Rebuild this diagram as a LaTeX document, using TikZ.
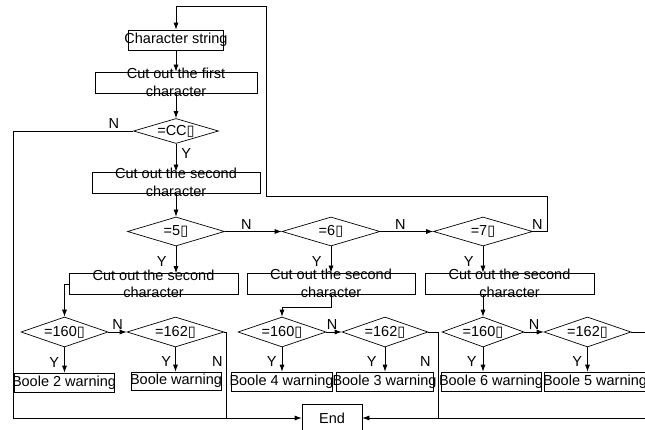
\documentclass[tikz,border=0pt]{standalone}
\usepackage{fontspec}
\setmainfont{Liberation Sans}
\newfontfamily\symfont{DejaVu Sans}
\newcommand{\miss}{{\symfont ▯}}
\usetikzlibrary{shapes,arrows.meta}

\begin{document}
\begin{tikzpicture}[x=1pt, y=-1pt, >={Latex[length=7pt,width=5pt]}, line width=0.7pt,
  every label/.style={font=\fontsize{14.5}{17.5}\selectfont, align=center, inner sep=0pt},
  box/.style={draw, rectangle, inner sep=0pt, minimum height=21pt},
  test/.style={draw, diamond, inner sep=0pt, minimum height=30pt},
  lbl/.style={font=\fontsize{14.5}{17.5}\selectfont, inner sep=0pt}]
    \fill[white] (0,0) rectangle (645,430);
    \useasboundingbox (0,0) rectangle (645,430);
    \clip (0,0) rectangle (645,430);
    \node (str) at (176,40) [box, minimum width=95pt, minimum height=20pt, label=center:Character string] {};
    \node (cut1) at (176,82.5) [box, minimum width=162pt, label={center:{Cut out the first\\character}}] {};
    \node (cc) at (176,131) [test, minimum width=85pt, minimum height=25pt, label={center:{=CC\miss}}] {};
    \node (cut2) at (176,182.5) [box, minimum width=168pt, label={center:{Cut out the second\\character}}] {};
    \node (d5) at (176,231.5) [test, minimum width=97pt, minimum height=29pt, label={center:{=5\miss}}] {};
    \node (d6) at (331,231.5) [test, minimum width=98pt, minimum height=29pt, label={center:{=6\miss}}] {};
    \node (d7) at (483,231.5) [test, minimum width=99pt, minimum height=29pt, label={center:{=7\miss}}] {};
    \node (ca) at (153.5,284) [box, minimum width=169pt, label={center:{Cut out the second\\character}}] {};
    \node (cb) at (331,283.5) [box, minimum width=168pt, label={center:{Cut out the second\\character}}] {};
    \node (cC) at (509.5,283.5) [box, minimum width=169pt, label={center:{Cut out the second\\character}}] {};
    \node (a160) at (64.5,332) [test, minimum width=87pt, label={center:{=160\miss}}] {};
    \node (a162) at (175.5,332) [test, minimum width=97pt, label={center:{=162\miss}}] {};
    \node (b160) at (282,332) [test, minimum width=88pt, label={center:{=160\miss}}] {};
    \node (b162) at (385,332) [test, minimum width=86pt, label={center:{=162\miss}}] {};
    \node (c160) at (483,332) [test, minimum width=82pt, label={center:{=160\miss}}] {};
    \node (c162) at (587.5,332) [test, minimum width=87pt, label={center:{=162\miss}}] {};
    \node (w2) at (64,382.5) [box, minimum width=100pt, minimum height=19pt, label=center:Boole 2 warning] {};
    \node (w1) at (176,381) [box, minimum width=90pt, minimum height=18pt, label=center:Boole warning] {};
    \node (w4) at (281.5,381.5) [box, minimum width=101pt, minimum height=19pt, label=center:Boole 4 warning] {};
    \node (w3) at (384.5,381.5) [box, minimum width=97pt, minimum height=19pt, label=center:Boole 3 warning] {};
    \node (w6) at (491,381.5) [box, minimum width=100pt, minimum height=19pt, label=center:Boole 6 warning] {};
    \node (w5) at (595,381.5) [box, minimum width=102pt, minimum height=19pt, label=center:Boole 5 warning] {};
    \node (End) at (332,418) [box, minimum width=60pt, minimum height=28pt, label=center:End] {};
    \coordinate (loopR) at (547,196);
    \coordinate (loopT) at (266,6);
    \coordinate (lft) at (13,418);
    \coordinate (bmid) at (282,307.5);
    \coordinate (aN) at (226,418);
    \coordinate (bN) at (438,418);
    \coordinate (rgt) at (660,418);
    \draw[->] (str) -- (cut1);
    \draw[->] (cut1) -- (cc);
    \draw[->] (cc) -- node[lbl, right=5pt, pos=0.33] {Y} (cut2);
    \draw[->] (cut2) -- (d5);
    \draw[->] (cc.west) -| node[lbl, above=2pt, pos=0.08] {N} (lft) -- (End);
    \draw[->] (d5) -- node[lbl, above=2pt, pos=0.38] {N} (d6);
    \draw[->] (d6) -- node[lbl, above=2pt, pos=0.38] {N} (d7);
    \draw[->] (d7.east) -| node[lbl, above=2pt, pos=0.155] {N} (loopR) -| (loopT) -| (str);
    \draw[->] (d5) -- node[lbl, left=9pt, pos=0.57] {Y} (d5 |- ca.north);
    \draw[->] (d6) -- node[lbl, left=9pt, pos=0.57] {Y} (d6 |- cb.north);
    \draw[->] (d7) -- node[lbl, left=9pt, pos=0.57] {Y} (d7 |- cC.north);
    \draw[->] (ca.west) -| (a160);
    \draw[->] (cb) |- (bmid) -- (b160);
    \draw[->] (cC.south -| c160) -- (c160);
    \draw[->] (a160) -- node[lbl, above=2pt, pos=0.5] {N} (a162);
    \draw[->] (b160) -- node[lbl, above=2pt, pos=0.38] {N} (b162);
    \draw[->] (c160) -- node[lbl, above=2pt, pos=0.5] {N} (c162);
    \draw[->] (a160) -- node[lbl, left=5pt, pos=0.58] {Y} (a160 |- w2.north);
    \draw[->] (a162) -- node[lbl, left=4pt, pos=0.58] {Y} (a162 |- w1.north);
    \draw[->] (b160) -- node[lbl, left=5pt, pos=0.58] {Y} (b160 |- w4.north);
    \draw[->] (b162) -- node[lbl, left=8pt, pos=0.58] {Y} (b162 |- w3.north);
    \draw[->] (c160) -- node[lbl, left=6pt, pos=0.58] {Y} (c160 |- w6.north);
    \draw[->] (c162) -- node[lbl, left=5pt, pos=0.58] {Y} (c162 |- w5.north);
    \draw (a162.east) -| node[lbl, left=3pt, pos=0.67] {N} (aN);
    \draw (b162.east) -| node[lbl, left=7pt, pos=0.67] {N} (bN);
    \draw (c162.east) -| node[lbl, left=5pt, pos=0.67] {N} (rgt);
    \draw[->] (rgt) -- (End);
\end{tikzpicture}
\end{document}
